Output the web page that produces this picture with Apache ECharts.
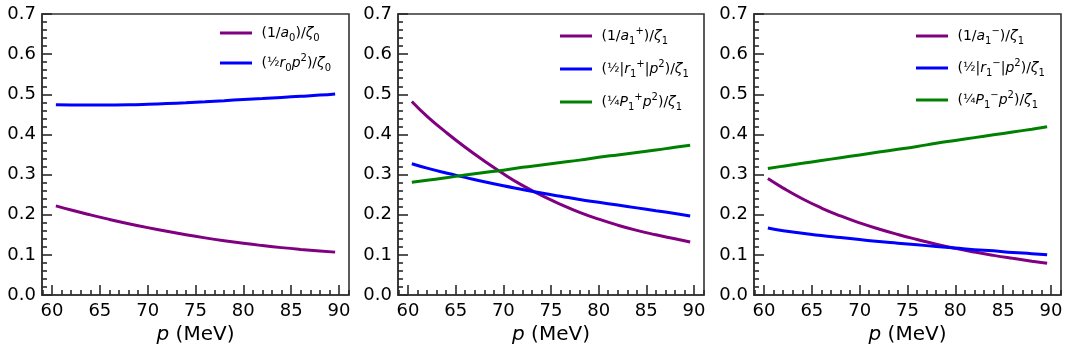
<!DOCTYPE html>
<html>
<head>
<meta charset="utf-8">
<script src="https://cdn.jsdelivr.net/npm/echarts@6/dist/echarts.min.js"></script>
<style>
  html, body { margin: 0; padding: 0; background: #fff; }
  #main { width: 1070px; height: 352px; }
</style>
</head>
<body>
<div id="main"></div>
<script>
// momentum grid (MeV)
var momentum = [60.4, 62, 64, 66, 68, 70, 72, 74, 76, 78, 80, 82, 84, 86, 88, 89.6];

// panel 1: S-wave
var invA0  = [0.222, 0.2116, 0.1996, 0.1883, 0.1777, 0.1678, 0.1586, 0.1501, 0.1423, 0.1352, 0.1288, 0.1231, 0.1180, 0.1136, 0.1098, 0.1068];
var r0Term = [0.474, 0.4735, 0.4733, 0.4735, 0.474, 0.4752, 0.4768, 0.4788, 0.4812, 0.484, 0.487, 0.4895, 0.4922, 0.495, 0.498, 0.501];

// panel 2: P-wave, +
var invA1p  = [0.482, 0.445, 0.405, 0.368, 0.334, 0.302, 0.273, 0.248, 0.226, 0.206, 0.189, 0.174, 0.161, 0.150, 0.140, 0.132];
var r1pTerm = [0.327, 0.316, 0.304, 0.293, 0.282, 0.272, 0.263, 0.254, 0.246, 0.238, 0.231, 0.224, 0.217, 0.210, 0.203, 0.197];
var P1pTerm = [0.281, 0.286, 0.292, 0.299, 0.305, 0.311, 0.318, 0.324, 0.330, 0.336, 0.343, 0.349, 0.355, 0.361, 0.368, 0.373];

// panel 3: P-wave, -
var invA1m  = [0.290, 0.2663, 0.2397, 0.2167, 0.1969, 0.1795, 0.1643, 0.1507, 0.1383, 0.1265, 0.1161, 0.1069, 0.0987, 0.0913, 0.0843, 0.0790];
var r1mTerm = [0.167, 0.160, 0.154, 0.148, 0.143, 0.138, 0.133, 0.129, 0.125, 0.121, 0.117, 0.113, 0.110, 0.106, 0.103, 0.100];
var P1mTerm = [0.315, 0.321, 0.328, 0.335, 0.342, 0.349, 0.356, 0.363, 0.370, 0.378, 0.385, 0.392, 0.399, 0.406, 0.413, 0.419];

// ticks
var xMajorTicks = [60, 65, 70, 75, 80, 85, 90];
var xMinorTicks = [59, 61, 62, 63, 64, 66, 67, 68, 69, 71, 72, 73, 74, 76, 77, 78, 79, 81, 82, 83, 84, 86, 87, 88, 89, 91];

var myChart = echarts.init(document.getElementById('main'));

var PURPLE = '#800080', BLUE = '#0000ff', GREEN = '#008000';
var EDGE = '#333333';
var TICK = '#2a2a2a';
var FONT = 'DejaVu Sans';

var panelLeft = [42, 398, 754];
var panelWidth = [307, 306, 307];

// legend text (mathtext-ish)
var legendText = {
    a0:  ' {n|(1/}{i|a}{sb|0}{n|)/}{i|ζ}{sb|0}',
    r0:  ' {n|(}{f|½}{i|r}{sb|0}{i|p}{sp|2}{n|)/}{i|ζ}{sb|0}',
    a1p: ' {n|(1/}{i|a}{sb|1}{sp|+}{n|)/}{i|ζ}{sb|1}',
    r1p: ' {n|(}{f|½}{n||}{i|r}{sb|1}{sp|+}{n||}{i|p}{sp|2}{n|)/}{i|ζ}{sb|1}',
    P1p: ' {n|(}{f|¼}{i|P}{sb|1}{sp|+}{i|p}{sp|2}{n|)/}{i|ζ}{sb|1}',
    a1m: ' {n|(1/}{i|a}{sb|1}{sp|−}{n|)/}{i|ζ}{sb|1}',
    r1m: ' {n|(}{f|½}{n||}{i|r}{sb|1}{sp|−}{n||}{i|p}{sp|2}{n|)/}{i|ζ}{sb|1}',
    P1m: ' {n|(}{f|¼}{i|P}{sb|1}{sp|−}{i|p}{sp|2}{n|)/}{i|ζ}{sb|1}'
};
var richText = {
    n:  { fontSize: 14, fontFamily: FONT, color: '#000', lineHeight: 20 },
    i:  { fontSize: 14, fontFamily: FONT, fontStyle: 'italic', color: '#000', lineHeight: 20 },
    f:  { fontSize: 13, fontFamily: FONT, color: '#000', lineHeight: 20 },
    sb: { fontSize: 10, fontFamily: FONT, color: '#000', lineHeight: 11, verticalAlign: 'bottom' },
    sp: { fontSize: 10, fontFamily: FONT, color: '#000', lineHeight: 10, verticalAlign: 'top' }
};

function pairs(ys) {
    return momentum.map(function (p, i) { return [p, ys[i]]; });
}

var grids = [], xAxes = [], yAxes = [], legends = [], series = [];

for (var g = 0; g < 3; g++) {
    grids.push({
        left: panelLeft[g], top: 14, width: panelWidth[g], height: 281,
        show: true, borderColor: EDGE, borderWidth: 1.6
    });
    // main x axis (major ticks + labels)
    xAxes.push({
        type: 'value', gridIndex: g, position: 'bottom',
        min: 58.95, max: 91.05,
        name: '{i|p} (MeV)', nameLocation: 'middle', nameGap: 29,
        nameTextStyle: {
            fontSize: 20, fontFamily: FONT, color: '#000',
            rich: { i: { fontSize: 20, fontFamily: FONT, fontStyle: 'italic', color: '#000' } }
        },
        axisLine: { show: true, lineStyle: { color: EDGE, width: 1.6 } },
        axisTick: { show: true, inside: true, length: 10, customValues: xMajorTicks, lineStyle: { color: TICK, width: 1.6 } },
        axisLabel: { show: true, customValues: xMajorTicks, margin: 7, fontSize: 18, fontFamily: FONT, color: '#000' },
        splitLine: { show: false }
    });
    yAxes.push({
        type: 'value', gridIndex: g,
        min: 0, max: 0.7, interval: 0.1,
        axisLine: { show: true, lineStyle: { color: EDGE, width: 1.6 } },
        axisTick: { show: true, inside: true, length: 10, lineStyle: { color: TICK, width: 1.6 } },
        minorTick: { show: true, splitNumber: 5, length: 5, lineStyle: { color: TICK, width: 1.6 } },
        axisLabel: {
            margin: 6, fontSize: 18, fontFamily: FONT, color: '#000',
            formatter: function (v) { return v.toFixed(1); }
        },
        splitLine: { show: false },
        minorSplitLine: { show: false }
    });
}
// extra x axes just for the minor ticks
for (var g2 = 0; g2 < 3; g2++) {
    xAxes.push({
        type: 'value', gridIndex: g2, position: 'bottom',
        min: 58.95, max: 91.05,
        axisLine: { show: false },
        axisTick: { show: true, inside: true, length: 5, customValues: xMinorTicks, lineStyle: { color: TICK, width: 1.6 } },
        axisLabel: { show: false },
        splitLine: { show: false }
    });
}

function addLine(name, ys, color, g) {
    series.push({
        name: name, type: 'line', xAxisIndex: g, yAxisIndex: g,
        data: pairs(ys), showSymbol: false, smooth: true,
        lineStyle: { color: color, width: 3 }, itemStyle: { color: color },
        silent: true, animation: false
    });
}
addLine('a0', invA0, PURPLE, 0);
addLine('r0', r0Term, BLUE, 0);
addLine('a1p', invA1p, PURPLE, 1);
addLine('r1p', r1pTerm, BLUE, 1);
addLine('P1p', P1pTerm, GREEN, 1);
addLine('a1m', invA1m, PURPLE, 2);
addLine('r1m', r1mTerm, BLUE, 2);
addLine('P1m', P1mTerm, GREEN, 2);

var legendSets = [['a0', 'r0'], ['a1p', 'r1p', 'P1p'], ['a1m', 'r1m', 'P1m']];
var legendLeft = [220, 560, 916];
var legendGap = [10, 13, 12];
for (var k = 0; k < 3; k++) {
    legends.push({
        orient: 'vertical', left: legendLeft[k], top: 26, padding: 0,
        itemGap: legendGap[k], itemWidth: 32, itemHeight: 3, icon: 'rect',
        selectedMode: false,
        data: legendSets[k],
        formatter: function (name) { return legendText[name]; },
        textStyle: { fontSize: 14, fontFamily: FONT, color: '#000', rich: richText }
    });
}

var option = {
    backgroundColor: '#fff',
    animation: false,
    grid: grids,
    xAxis: xAxes,
    yAxis: yAxes,
    legend: legends,
    series: series
};
myChart.setOption(option);
</script>
</body>
</html>
